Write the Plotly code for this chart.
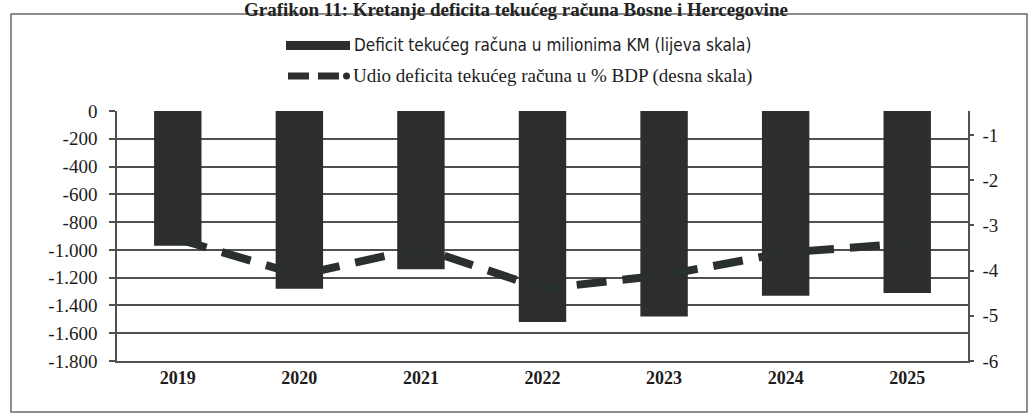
import plotly.graph_objects as go

# ------------------------------------------------------------
# podaci (očitano s grafikona)
# ------------------------------------------------------------
godine = ["2019", "2020", "2021", "2022", "2023", "2024", "2025"]
deficit_mil_km = [-970, -1280, -1140, -1520, -1480, -1330, -1310]
deficit_pct_bdp = [-3.3, -4.1, -3.5, -4.4, -4.1, -3.6, -3.4]

lijeva_ticks = [0, -200, -400, -600, -800, -1000, -1200, -1400, -1600, -1800]
desna_ticks = [-1, -2, -3, -4, -5, -6]

naslov = "Grafikon 11: Kretanje deficita tekućeg računa Bosne i Hercegovine"
legenda_1 = "Deficit tekućeg računa u milionima KM (lijeva skala)"
legenda_2 = "Udio deficita tekućeg računa u % BDP (desna skala)"

TAMNA = "#2d2d2d"
GRID = "#505050"
TEKST = "#1c1c1c"
SERIF = "Liberation Serif, Times New Roman, serif"
NARROW = "Liberation Sans Narrow, DejaVu Sans Condensed, Arial Narrow, sans-serif"

W, H = 1031, 417
L, R, T, B = 117, 63, 111, 56  # margine plot područja


def px_x(x):
    """piksel -> paper x"""
    return (x - L) / (W - L - R)


def px_y(y):
    """piksel -> paper y"""
    return (H - B - y) / (H - T - B)


def fmt_km(v):
    s = f"{abs(v):,}".replace(",", ".")
    return ("-" if v < 0 else "") + s


fig = go.Figure()

# stupci – deficit u mil. KM (lijeva skala)
fig.add_trace(go.Bar(
    x=godine, y=deficit_mil_km,
    name=legenda_1,
    marker=dict(color=TAMNA, line=dict(width=0)),
    yaxis="y",
))

# linija – udio u % BDP (desna skala)
fig.add_trace(go.Scatter(
    x=godine, y=deficit_pct_bdp,
    name=legenda_2,
    mode="lines",
    line=dict(color="#2a302c", width=8, dash="30px,16px"),
    yaxis="y2",
))

shapes = [
    # okvir grafikona
    dict(type="rect", xref="paper", yref="paper",
         x0=px_x(11), x1=px_x(1027), y0=px_y(412), y1=px_y(14),
         line=dict(color="#6a6a6a", width=1.5)),
    # legenda – simbol stupca
    dict(type="rect", xref="paper", yref="paper",
         x0=px_x(286), x1=px_x(350), y0=px_y(50), y1=px_y(41),
         fillcolor=TAMNA, line=dict(width=0)),
    # legenda – isprekidana linija
    dict(type="line", xref="paper", yref="paper",
         x0=px_x(288), x1=px_x(309), y0=px_y(76), y1=px_y(76),
         line=dict(color=TAMNA, width=7)),
    dict(type="line", xref="paper", yref="paper",
         x0=px_x(318), x1=px_x(339), y0=px_y(76), y1=px_y(76),
         line=dict(color=TAMNA, width=7)),
    dict(type="circle", xref="paper", yref="paper",
         x0=px_x(343), x1=px_x(350), y0=px_y(79.5), y1=px_y(72.5),
         fillcolor=TAMNA, line=dict(width=0)),
]

annotations = [
    dict(text=f"<b>{naslov}</b>", xref="paper", yref="paper",
         x=px_x(516), y=px_y(9), xanchor="center", yanchor="middle",
         showarrow=False, font=dict(family=SERIF, size=19, color="#222")),
    dict(text=legenda_1, xref="paper", yref="paper",
         x=px_x(352), y=px_y(45), xanchor="left", yanchor="middle",
         showarrow=False, font=dict(family=NARROW, size=17, color=TEKST)),
    dict(text=legenda_2, xref="paper", yref="paper",
         x=px_x(351), y=px_y(76), xanchor="left", yanchor="middle",
         showarrow=False, font=dict(family=SERIF, size=19, color=TEKST)),
]

fig.update_layout(
    width=W, height=H,
    paper_bgcolor="white", plot_bgcolor="white",
    margin=dict(l=L, r=R, t=T, b=B, autoexpand=False),
    showlegend=False,
    bargap=0.61,
    font=dict(family=SERIF, color=TEKST, size=16),
    xaxis=dict(
        type="category",
        showline=True, linecolor=GRID, linewidth=1.5,
        showgrid=False, ticks="",
        tickfont=dict(family=SERIF, size=18, color=TEKST, weight="bold"),
    ),
    yaxis=dict(
        range=[-1800, 0],
        tickvals=lijeva_ticks,
        ticktext=[fmt_km(v) for v in lijeva_ticks],
        showgrid=True, gridcolor=GRID, gridwidth=1.5, griddash="solid",
        zeroline=False,
        showline=True, linecolor=GRID, linewidth=1.5,
        ticks="outside", ticklen=6, tickcolor=GRID, tickwidth=1.5,
        ticklabelstandoff=8,
        tickfont=dict(family=SERIF, size=19, color=TEKST),
    ),
    yaxis2=dict(
        range=[-6, -0.47],
        overlaying="y", side="right",
        tickvals=desna_ticks,
        ticktext=[f"-{abs(v)}" for v in desna_ticks],
        showgrid=False, zeroline=False,
        showline=True, linecolor=GRID, linewidth=1.5,
        ticks="outside", ticklen=4, tickcolor=GRID, tickwidth=1.5,
        ticklabelstandoff=5,
        tickfont=dict(family=SERIF, size=19, color=TEKST),
    ),
    shapes=shapes,
    annotations=annotations,
)

# bez margine tijela stranice, da se grafikon poklopi s prozorom
fig.write_html(
    "out.html",
    config={"displayModeBar": False},
    post_script="document.body.style.margin='0';",
)
